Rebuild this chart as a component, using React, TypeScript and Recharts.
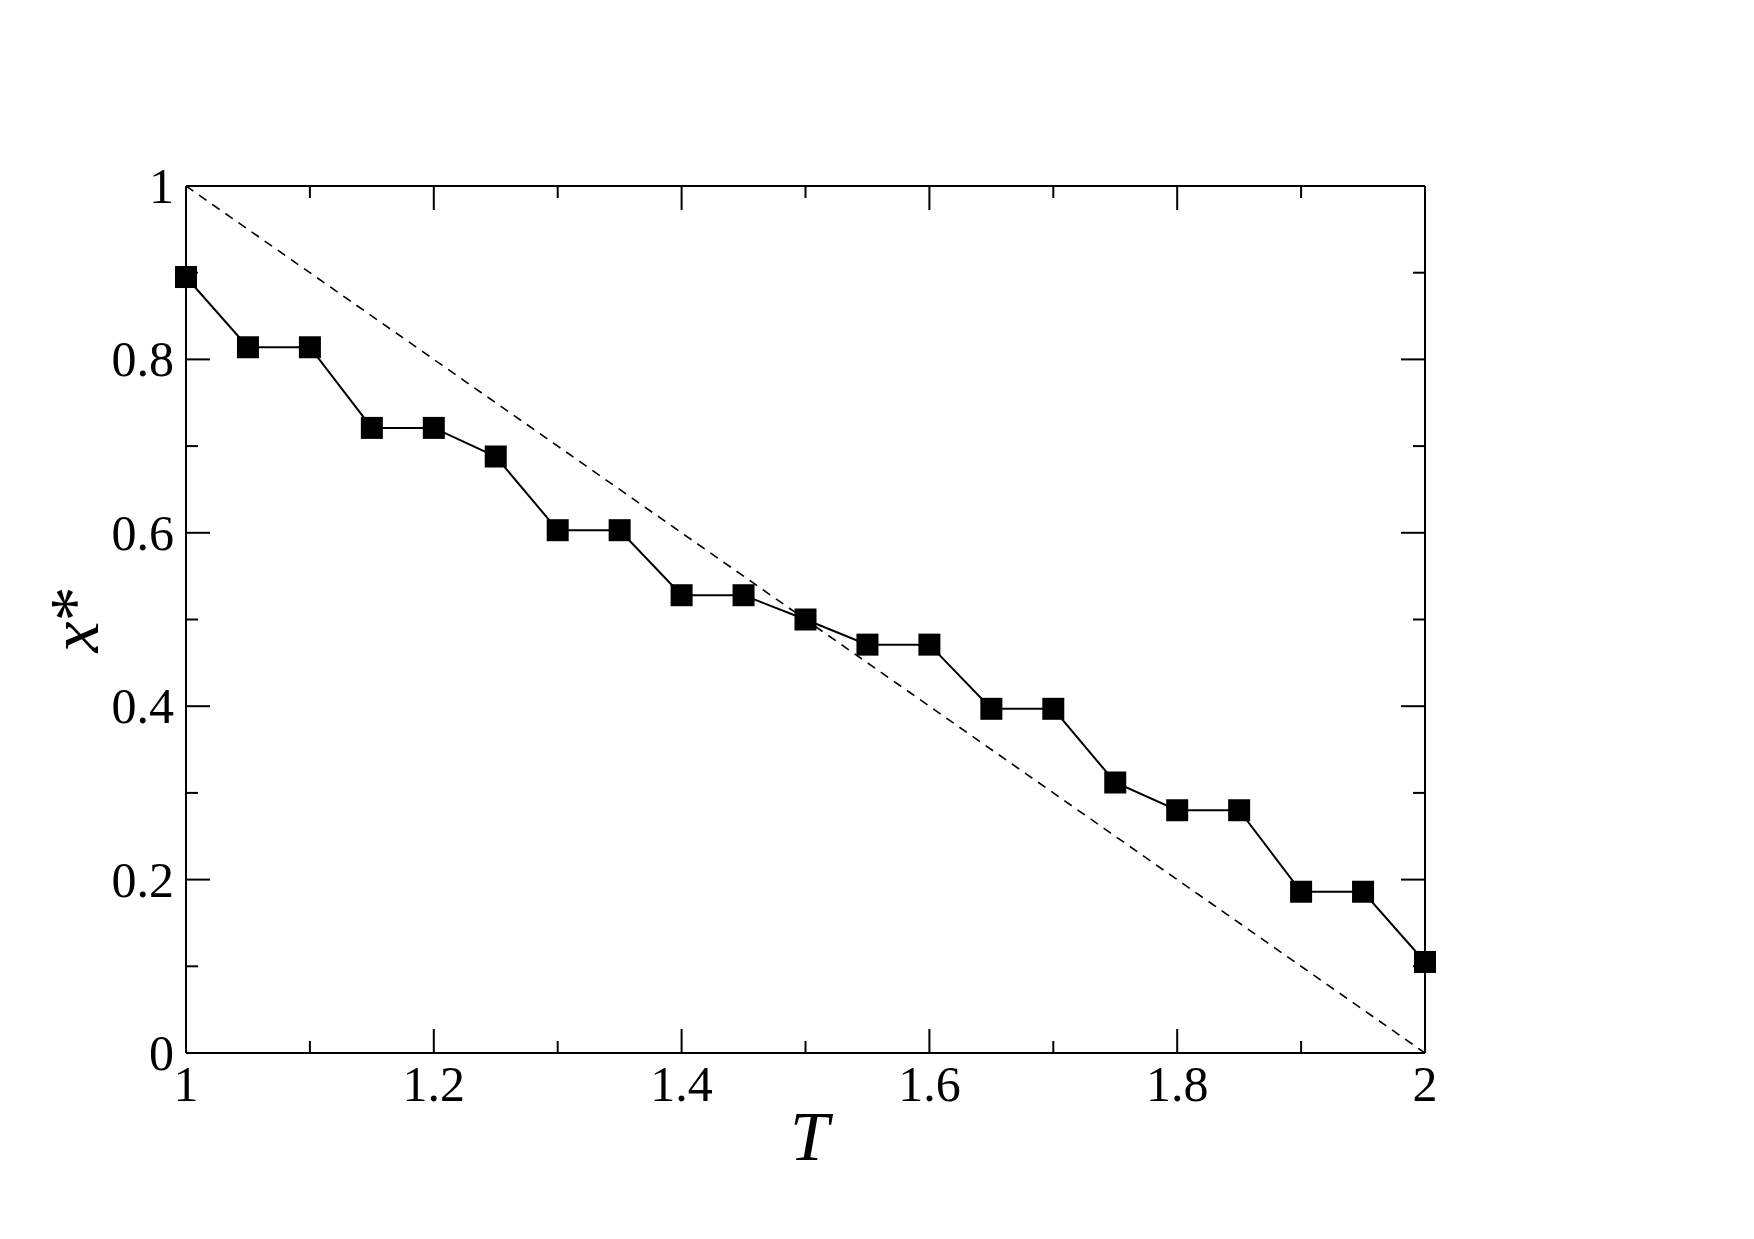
import React from "react";
import { ComposedChart, Line, XAxis, YAxis } from "recharts";

// temperature grid and measured x*
const T_VALUES = [1.0, 1.05, 1.1, 1.15, 1.2, 1.25, 1.3, 1.35, 1.4, 1.45, 1.5, 1.55, 1.6, 1.65, 1.7, 1.75, 1.8, 1.85, 1.9, 1.95, 2.0];
const X_STAR = [0.895, 0.814, 0.814, 0.721, 0.721, 0.688, 0.603, 0.603, 0.528, 0.528, 0.5, 0.471, 0.471, 0.397, 0.397, 0.312, 0.28, 0.28, 0.186, 0.186, 0.105];

// reference diagonal x = 2 - T
const DIAG_T = [1, 2];
const DIAG_X = [1, 0];

const X_TICKS = [1, 1.1, 1.2, 1.3, 1.4, 1.5, 1.6, 1.7, 1.8, 1.9, 2];
const Y_TICKS = [0, 0.1, 0.2, 0.3, 0.4, 0.5, 0.6, 0.7, 0.8, 0.9, 1];

const series = T_VALUES.map((T, i) => ({ T, x: X_STAR[i] }));
const diagonal = DIAG_T.map((T, i) => ({ T, x: DIAG_X[i] }));

const FONT = "Liberation Serif, Times New Roman, serif";
const MAJOR = 24;
const MINOR = 12;

const isMajor = (v: number) => Math.round(v * 10) % 2 === 0;
const fmt = (v: number) => String(Math.round(v * 10) / 10);

const txt = { fontFamily: FONT, fontSize: 50 };

function BottomTick({ x, y, payload }: any) {
  const v = payload.value;
  const len = isMajor(v) ? MAJOR : MINOR;
  return (
    <g>
      <line x1={x} y1={y} x2={x} y2={y - len} stroke="#000" strokeWidth={2} />
      {isMajor(v) && (
        <text x={x} y={y + 48} textAnchor="middle" style={txt} fill="#000">
          {fmt(v)}
        </text>
      )}
    </g>
  );
}

function TopTick({ x, y, payload }: any) {
  const len = isMajor(payload.value) ? MAJOR : MINOR;
  return <line x1={x} y1={y} x2={x} y2={y + len} stroke="#000" strokeWidth={2} />;
}

function LeftTick({ x, y, payload }: any) {
  const v = payload.value;
  const len = isMajor(v) ? MAJOR : MINOR;
  return (
    <g>
      <line x1={x} y1={y} x2={x + len} y2={y} stroke="#000" strokeWidth={2} />
      {isMajor(v) && (
        <text x={x - 12} y={y + 17} textAnchor="end" style={txt} fill="#000">
          {fmt(v)}
        </text>
      )}
    </g>
  );
}

function RightTick({ x, y, payload }: any) {
  const len = isMajor(payload.value) ? MAJOR : MINOR;
  return <line x1={x} y1={y} x2={x - len} y2={y} stroke="#000" strokeWidth={2} />;
}

function SquareDot({ cx, cy }: any) {
  if (cx == null || cy == null) return null;
  return <rect x={cx - 11} y={cy - 11} width={22} height={22} fill="#000" />;
}

export default function App() {
  return (
    <div style={{ position: "absolute", left: 0, top: 0, background: "#fff" }}>
      <ComposedChart
        width={1754}
        height={1239}
        margin={{ top: 185, right: 328, bottom: 86, left: 86 }}
      >
        <XAxis
          xAxisId="b"
          dataKey="T"
          type="number"
          domain={[1, 2]}
          ticks={X_TICKS}
          interval={0}
          height={100}
          tickLine={false}
          tickSize={0}
          tickMargin={0}
          tick={<BottomTick />}
          axisLine={{ stroke: "#000", strokeWidth: 2 }}
          label={{
            content: ({ viewBox }: any) => (
              <text
                x={viewBox.x + viewBox.width / 2 + 4}
                y={viewBox.y + 107}
                textAnchor="middle"
                style={{ fontFamily: FONT, fontSize: 70, fontStyle: "italic" }}
                fill="#000"
              >
                T
              </text>
            ),
          }}
        />
        <XAxis
          xAxisId="t"
          orientation="top"
          dataKey="T"
          type="number"
          domain={[1, 2]}
          ticks={X_TICKS}
          interval={0}
          height={1}
          tickLine={false}
          tickSize={0}
          tickMargin={0}
          tick={<TopTick />}
          axisLine={{ stroke: "#000", strokeWidth: 2 }}
          allowDataOverflow
        />
        <YAxis
          yAxisId="l"
          type="number"
          domain={[0, 1]}
          ticks={Y_TICKS}
          interval={0}
          width={100}
          tickLine={false}
          tickSize={0}
          tickMargin={0}
          tick={<LeftTick />}
          axisLine={{ stroke: "#000", strokeWidth: 2 }}
          label={{
            content: ({ viewBox }: any) => {
              const cx = viewBox.x + 12;
              const cy = viewBox.y + viewBox.height / 2;
              return (
                <text
                  x={cx}
                  y={cy}
                  transform={`rotate(-90 ${cx} ${cy})`}
                  textAnchor="middle"
                  style={{ fontFamily: FONT, fontSize: 70 }}
                  fill="#000"
                >
                  <tspan style={{ fontStyle: "italic" }}>x</tspan>
                  <tspan>*</tspan>
                </text>
              );
            },
          }}
        />
        <YAxis
          yAxisId="r"
          orientation="right"
          type="number"
          domain={[0, 1]}
          ticks={Y_TICKS}
          interval={0}
          width={1}
          tickLine={false}
          tickSize={0}
          tickMargin={0}
          tick={<RightTick />}
          axisLine={{ stroke: "#000", strokeWidth: 2 }}
          allowDataOverflow
        />
        <Line
          xAxisId="b"
          yAxisId="l"
          data={diagonal}
          dataKey="x"
          stroke="#000"
          strokeWidth={1.6}
          strokeDasharray="9 7"
          dot={false}
          activeDot={false}
          isAnimationActive={false}
        />
        <Line
          xAxisId="b"
          yAxisId="l"
          data={series}
          dataKey="x"
          type="linear"
          stroke="#000"
          strokeWidth={2}
          dot={<SquareDot />}
          activeDot={false}
          isAnimationActive={false}
        />
      </ComposedChart>
    </div>
  );
}
